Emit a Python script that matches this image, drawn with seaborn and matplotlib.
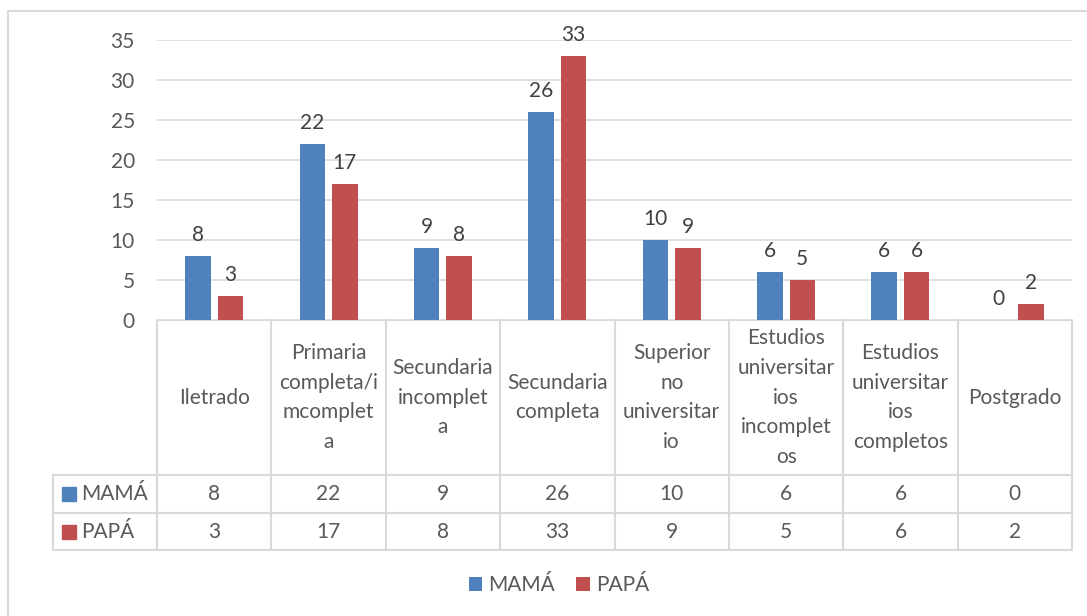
import numpy as np
import pandas as pd
import matplotlib
matplotlib.use('Agg')
import matplotlib.pyplot as plt
import seaborn as sns
from matplotlib.patches import Patch
from matplotlib.lines import Line2D

# Datos del grafico
categorias = ['Iletrado',
              'Primaria\ncompleta/i\nmcomplet\na',
              'Secundaria\nincomplet\na',
              'Secundaria\ncompleta',
              'Superior\nno\nuniversitar\nio',
              'Estudios\nuniversitar\nios\nincomplet\nos',
              'Estudios\nuniversitar\nios\ncompletos',
              'Postgrado']
mama = [8, 22, 9, 26, 10, 6, 6, 0]
papa = [3, 17, 8, 33, 9, 5, 6, 2]
series = ['MAMÁ', 'PAPÁ']
colores = ['#4F81BD', '#C0504D']
yticks = [0, 5, 10, 15, 20, 25, 30, 35]

sns.set_style('white')
plt.rcParams['font.family'] = ['Lato', 'DejaVu Sans']
gris = '#595959'
linea = '#d9d9d9'
fs = 15

df = pd.DataFrame({
    'cat': categorias * 2,
    'serie': [series[0]] * len(mama) + [series[1]] * len(papa),
    'valor': mama + papa,
})

W, H = 1087, 616
fig = plt.figure(figsize=(W / 100, H / 100), dpi=100)

# Area de barras
ax = fig.add_axes([157 / W, 1 - 320 / H, (1072 - 157) / W, 280 / H])
sns.barplot(data=df, x='cat', y='valor', hue='serie', palette=colores,
            saturation=1, width=0.568, gap=0.215, linewidth=0, ax=ax, legend=False)
for cont in ax.containers:
    ax.bar_label(cont, padding=8, fontsize=fs, color='#404040')
ax.set_ylim(0, 35)
ax.set_xlim(-0.5, len(categorias) - 0.5)
ax.set_yticks(yticks)
ax.yaxis.grid(True, color=linea, linewidth=1.2)
ax.set_axisbelow(True)
ax.set_xticks([])
ax.set_xlabel('')
ax.set_ylabel('')
ax.tick_params(axis='y', length=0, pad=16, labelsize=fs, labelcolor=gris)
for s in ax.spines.values():
    s.set_visible(False)

# Tabla de datos debajo
col_px = (1072 - 157) / len(categorias)
x_izq = -0.5 - (157 - 53) / col_px
tax = fig.add_axes([53 / W, 1 - 550 / H, (1072 - 53) / W, 230 / H])
tax.set_xlim(x_izq, len(categorias) - 0.5)
tax.set_ylim(230, 0)
tax.axis('off')

filas = [155, 193, 230]
tax.plot([-0.5, len(categorias) - 0.5], [0, 0], color=linea, lw=1.5)
for yy in filas:
    tax.plot([x_izq, len(categorias) - 0.5], [yy, yy], color=linea, lw=1.5, clip_on=False)
tax.plot([x_izq, x_izq], [filas[0], filas[-1]], color=linea, lw=1.5, clip_on=False)
for i in range(len(categorias) + 1):
    tax.plot([i - 0.5, i - 0.5], [0, filas[-1]], color=linea, lw=1.5, clip_on=False)

for i, cat in enumerate(categorias):
    tax.text(i, filas[0] / 2, cat, ha='center', va='center', fontsize=fs,
             color=gris, linespacing=1.6)

for r, (nombre, vals, col) in enumerate(zip(series, [mama, papa], colores)):
    yc = (filas[r] + filas[r + 1]) / 2
    for i, v in enumerate(vals):
        tax.text(i, yc, str(v), ha='center', va='center', fontsize=fs, color=gris)
    tax.plot(x_izq + 16 / col_px, yc, marker='s', markersize=9.5, color=col,
             linestyle='none', clip_on=False)
    tax.text(x_izq + 28 / col_px, yc, nombre, ha='left', va='center',
             fontsize=fs, color=gris)

# Leyenda inferior
handles = [Patch(facecolor=c, edgecolor='none', label=s) for s, c in zip(series, colores)]
fig.legend(handles=handles, loc='center', bbox_to_anchor=(559 / W, 1 - 585 / H),
           ncol=2, frameon=False, fontsize=fs, handlelength=0.65, handleheight=0.65,
           handletextpad=0.3, columnspacing=1.0, labelcolor=gris)

# Marco del grafico
fig.add_artist(Line2D([8 / W, 1], [1 - 11 / H, 1 - 11 / H], color=linea, lw=1.5))
fig.add_artist(Line2D([8 / W, 8 / W], [0, 1 - 11 / H], color=linea, lw=1.5))

fig.savefig('out.png', dpi=100)
